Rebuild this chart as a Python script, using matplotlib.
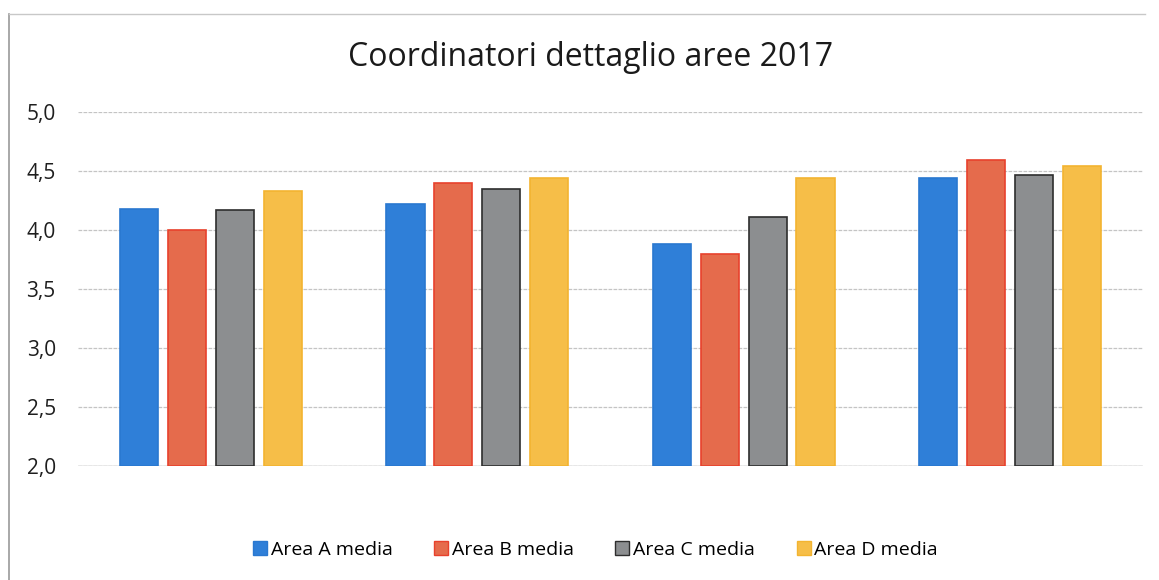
import matplotlib
matplotlib.use("Agg")
import matplotlib.pyplot as plt
import numpy as np
from matplotlib.lines import Line2D
from matplotlib.ticker import FuncFormatter

title = "Coordinatori dettaglio aree 2017"
series_names = ["Area A media", "Area B media", "Area C media", "Area D media"]
area_a = [4.18, 4.22, 3.88, 4.44]
area_b = [4.00, 4.40, 3.80, 4.59]
area_c = [4.17, 4.35, 4.11, 4.47]
area_d = [4.33, 4.44, 4.44, 4.54]
y_ticks = [2.0, 2.5, 3.0, 3.5, 4.0, 4.5, 5.0]

face_colors = ["#2F7FD8", "#E56B4C", "#8C8E90", "#F6BE48"]
edge_colors = ["#2A78D0", "#E8412C", "#2E2E2E", "#F3B431"]

plt.rcParams['font.family'] = ['Open Sans', 'DejaVu Sans']

fig = plt.figure(figsize=(11.59, 5.80), dpi=100)
ax = fig.add_axes([78/1159, (580-466)/580, (1143-78)/1159, (466-112)/580])

series = [area_a, area_b, area_c, area_d]
x = np.arange(len(area_a))
width = 0.143
pitch = 0.18
for i, vals in enumerate(series):
    offs = (i - 1.5) * pitch
    ax.bar(x + offs, np.array(vals) - 2.0, width, bottom=2.0,
           color=face_colors[i], edgecolor=edge_colors[i], linewidth=1.2,
           label=series_names[i], zorder=3)

ax.set_xlim(-0.5, len(area_a) - 0.5)
ax.set_ylim(2.0, 5.0)
ax.set_yticks(y_ticks)
ax.yaxis.set_major_formatter(FuncFormatter(lambda v, p: f"{v:.1f}".replace(".", ",")))
ax.set_xticks([])
ax.tick_params(axis='y', length=0, labelsize=15, pad=16, colors="#1e1e1e")
for s in ax.spines.values():
    s.set_visible(False)
ax.grid(axis='y', color="#c4c4c4", linestyle=(0, (3, 1)), linewidth=0.9, zorder=0)
ax.axhline(2.0, color="#a8a8a8", linewidth=1.0, zorder=2)

fig.text(591/1159, 1 - 58/580, title, ha='center', va='center', fontsize=23, color="#1a1a1a")

handles = [Line2D([0], [0], marker='s', linestyle='none', markersize=10,
                  markerfacecolor=face_colors[i], markeredgecolor=edge_colors[i])
           for i in range(4)]
fig.legend(handles, series_names, loc='center', bbox_to_anchor=(594/1159, 1 - 550/580),
           ncol=4, frameon=False, fontsize=14, handletextpad=0.05, columnspacing=2.0,
           handlelength=1.0)

# frame lines (left and top border of the chart area)
fig.add_artist(Line2D([9/1159, 9/1159], [0, 1 - 14/580], color="#9a9a9a", linewidth=1.2))
fig.add_artist(Line2D([9/1159, 1145/1159], [1 - 14/580, 1 - 14/580], color="#c8c8c8", linewidth=1.0))

fig.savefig("out.png", dpi=100)
